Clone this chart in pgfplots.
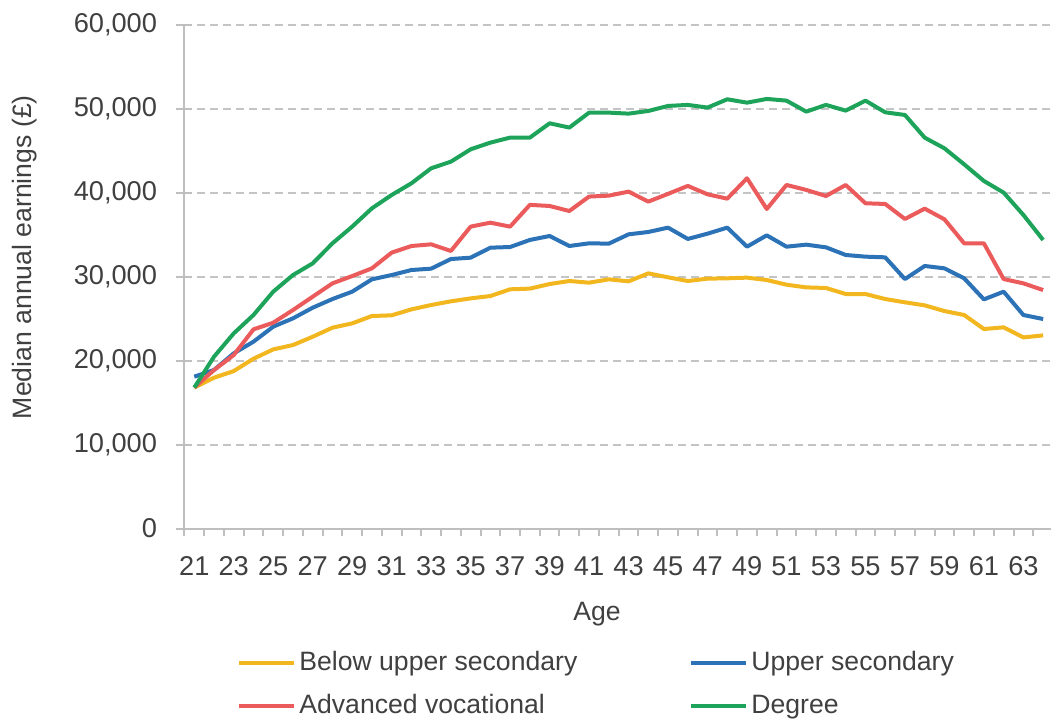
\documentclass[border=0pt]{standalone}
\usepackage{pgfplots}
\pgfplotsset{compat=1.18}
\usepackage{pgfplotstable}
\usepackage{fontspec}
\setmainfont{Liberation Sans}
\definecolor{cyellow}{HTML}{F2B61E}
\definecolor{cblue}{HTML}{2B72B6}
\definecolor{cred}{HTML}{EB5B5B}
\definecolor{cgreen}{HTML}{1DA35A}
\definecolor{ctext}{HTML}{404040}
\definecolor{caxis}{HTML}{BFBFBF}
\definecolor{cgrid}{HTML}{C4C4C4}
\pgfplotstableread{
age below upper adv degree
21 16800 18100 16800 16800
22 17980 18900 18890 20480
23 18770 20880 20680 23260
24 20240 22270 23740 25450
25 21350 24060 24530 28230
26 21870 25050 26040 30210
27 22860 26320 27630 31600
28 23940 27350 29220 33990
29 24450 28230 30090 35980
30 25330 29700 31010 38160
31 25410 30210 32880 39750
32 26120 30810 33670 41140
33 26640 30970 33870 42930
34 27080 32120 33080 43720
35 27430 32280 35980 45190
36 27710 33470 36450 45990
37 28510 33550 35980 46580
38 28590 34390 38570 46580
39 29140 34860 38440 48290
40 29500 33670 37840 47780
41 29300 33990 39560 49560
42 29700 33950 39670 49560
43 29460 35060 40150 49440
44 30410 35340 38960 49760
45 29940 35860 39880 50360
46 29500 34510 40830 50480
47 29780 35140 39830 50160
48 29820 35860 39310 51150
49 29900 33590 41740 50750
50 29620 34940 38080 51190
51 29060 33590 40940 50990
52 28740 33830 40350 49680
53 28670 33510 39630 50480
54 27950 32600 40940 49800
55 27950 32400 38760 50990
56 27350 32320 38680 49600
57 26960 29730 36890 49280
58 26600 31290 38120 46580
59 25920 31010 36850 45310
60 25450 29820 33990 43400
61 23780 27310 33990 41420
62 23980 28230 29730 40030
63 22780 25450 29220 37370
64 23020 24970 28420 34390
}\datatable
\begin{document}
\begin{tikzpicture}
\begin{axis}[
  at={(0,0)}, anchor=south west,
  scale only axis,
  width=434.3pt, height=251.8pt,
  xmin=20.5, xmax=64.5,
  ymin=0, ymax=60000,
  axis x line*=bottom, axis y line*=left,
  axis line style={-, draw=caxis, line width=1pt},
  xtick={21,23,...,63},
  minor xtick={20.5,21.5,...,64.5},
  ytick={0,10000,...,60000},
  scaled y ticks=false,
  /pgf/number format/assume math mode=true,
  /pgf/number format/1000 sep={,},
  tick align=center,
  major tick length=8pt,
  minor tick length=3.5pt,
  major x tick style={draw=none},
  minor x tick style={draw=caxis, line width=1pt, yshift=-1.75pt},
  major y tick style={draw=caxis, line width=1pt},
  ymajorgrids,
  major grid style={draw=cgrid, line width=1pt, dash pattern=on 4pt off 2.5pt},
  tick label style={font=\fontsize{13.6}{16}\selectfont, text=ctext, inner sep=0pt},
  xticklabel style={anchor=base, yshift=-19.6pt},
  yticklabel style={anchor=east, xshift=-9.5pt},
  every axis x label/.style={at={(rel axis cs:0.475,0)}, anchor=base, yshift=-45.7pt, font=\fontsize{13.3}{16}\selectfont, text=ctext},
  every axis y label/.style={at={(rel axis cs:0,0.539)}, anchor=center, xshift=-80pt, rotate=90, font=\fontsize{13.3}{16}\selectfont, text=ctext},
  xlabel={Age},
  ylabel={Median annual earnings (£)},
  legend columns=2,
  legend cell align=left,
  legend style={at={(rel axis cs:0.061,-0.3096)}, anchor=west, draw=none, fill=none, inner sep=0pt, outer sep=0pt,
    font=\fontsize{13.3}{16}\selectfont, text=ctext,
    nodes={inner sep=0pt, text height=10pt, text depth=3pt},
    row sep=8.5pt,
    /tikz/every odd column/.append style={column sep=1.5pt},
    /tikz/every even column/.append style={column sep=56pt}},
  legend image code/.code={\draw[#1, line width=2pt] (0pt,0pt) -- (27.5pt,0pt);},
  every axis plot/.append style={line width=2pt, line join=round, no markers},
]
\addplot[cyellow] table[x=age, y=below] {\datatable};
\addlegendentry{Below upper secondary}
\addplot[cblue] table[x=age, y=upper] {\datatable};
\addlegendentry{Upper secondary}
\addplot[cred] table[x=age, y=adv] {\datatable};
\addlegendentry{Advanced vocational}
\addplot[cgreen] table[x=age, y=degree] {\datatable};
\addlegendentry{Degree}
\end{axis}
\pgfresetboundingbox
\path[use as bounding box] (-92.2pt,-97.8pt) rectangle (433.3pt,264.3pt);
\end{tikzpicture}
\end{document}
